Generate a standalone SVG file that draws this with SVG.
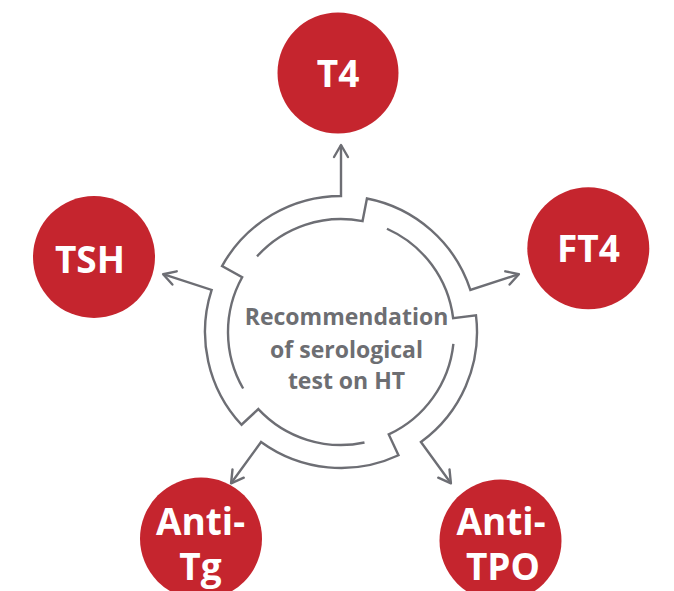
<svg xmlns="http://www.w3.org/2000/svg" width="674" height="591" viewBox="0 0 674 591">
  <defs>
    <marker id="arrow" markerUnits="userSpaceOnUse" markerWidth="24" markerHeight="24" refX="0" refY="0" viewBox="-14 -10 20 20" orient="auto" overflow="visible">
      <path d="M -10 -5.8 L 0 0 L -10 5.8" fill="none" stroke="#6d6e74" stroke-width="2" stroke-linecap="round" stroke-linejoin="round"/>
    </marker>
    <style>
      .bubble { fill: #c5252e; }
      .lbl { font-family: "Open Sans", "Liberation Sans", sans-serif; font-weight: 700; font-size: 37px; fill: #ffffff; text-anchor: middle; }
      .ctr { font-family: "Open Sans", "Liberation Sans", sans-serif; font-weight: 700; font-size: 23px; fill: #6d6e72; text-anchor: middle; }
      .conn { fill: none; stroke: #6d6e74; stroke-width: 2.4; stroke-linejoin: miter; marker-end: url(#arrow); }
    </style>
  </defs>
  <rect width="674" height="591" fill="#ffffff"/>

  <g id="connectors">
    <path class="conn" d="M 243.14 388.5 A 113 113 0 0 1 242.17 277.22 L 222.05 266.07 A 136 136 0 0 1 341 196 L 341 145"/>
    <path class="conn" d="M 257.03 256.39 A 113 113 0 0 1 362.56 221.08 L 366.95 198.5 A 136 136 0 0 1 470.35 289.98 L 518.86 274.22"/>
    <path class="conn" d="M 386.96 228.77 A 113 113 0 0 1 453.15 318.23 L 475.98 315.42 A 136 136 0 0 1 420.94 442.02 L 450.92 483.28"/>
    <path class="conn" d="M 453.38 343.81 A 113 113 0 0 1 388.75 434.41 L 398.47 455.26 A 136 136 0 0 1 261.06 442.02 L 231.08 483.28"/>
    <path class="conn" d="M 364.49 442.53 A 113 113 0 0 1 258.35 409.07 L 241.53 424.75 A 136 136 0 0 1 211.65 289.98 L 163.14 274.22"/>
  </g>

  <g id="center">
    <text class="ctr" x="346.5" y="325">Recommendation</text>
    <text class="ctr" x="346.5" y="358">of serological</text>
    <text class="ctr" x="346.5" y="389">test on HT</text>
  </g>

  <g id="node-t4">
    <circle class="bubble" cx="338" cy="73" r="60.5"/>
    <text class="lbl" x="338" y="86.5">T4</text>
  </g>
  <g id="node-ft4">
    <circle class="bubble" cx="588.3" cy="248.3" r="61"/>
    <text class="lbl" x="588.5" y="261.5">FT4</text>
  </g>
  <g id="node-tsh">
    <circle class="bubble" cx="94" cy="257" r="61"/>
    <text class="lbl" x="90" y="273">TSH</text>
  </g>
  <g id="node-anti-tg">
    <circle class="bubble" cx="201" cy="538.5" r="61"/>
    <text class="lbl" x="200.5" y="535">Anti-</text>
    <text class="lbl" x="200.5" y="580">Tg</text>
  </g>
  <g id="node-anti-tpo">
    <circle class="bubble" cx="500.5" cy="540.5" r="61"/>
    <text class="lbl" x="501" y="535">Anti-</text>
    <text class="lbl" x="503" y="580">TPO</text>
  </g>
</svg>
